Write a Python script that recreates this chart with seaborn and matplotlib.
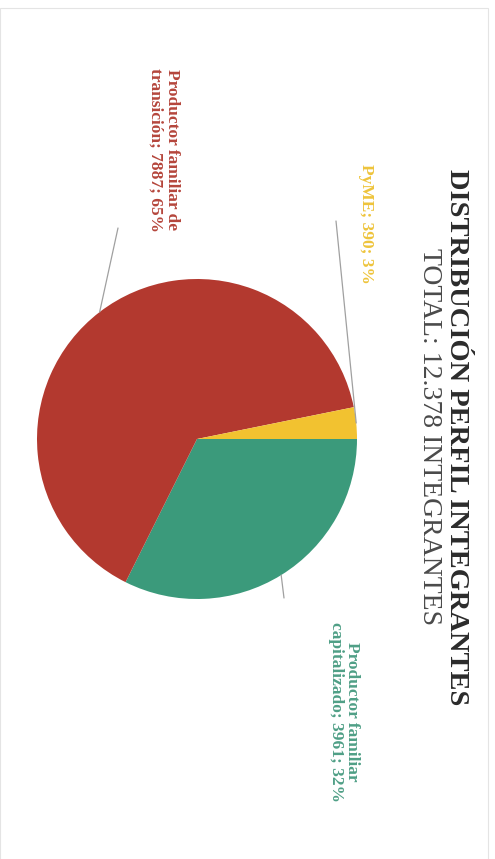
import numpy as np
import matplotlib.pyplot as plt
import seaborn as sns
from matplotlib.patches import Rectangle

# Data (the page is scanned rotated 90 degrees, so everything is drawn sideways)
categories = ['Productor familiar capitalizado', 'Productor familiar de transición', 'PyME']
members = [3961, 7887, 390]
shares = [32, 65, 3]
label_lines = [['Productor familiar', 'capitalizado'],
               ['Productor familiar de', 'transición'],
               ['PyME']]
title = 'DISTRIBUCIÓN PERFIL INTEGRANTES'
subtitle = 'TOTAL: 12.378 INTEGRANTES'

pie_colors = ['#3b9a7b', '#b3392f', '#f2c230']
text_colors = ['#4f9f86', '#b5463c', '#eec43c']

sns.set_theme(style='white')
plt.rcParams['font.family'] = ['Liberation Serif', 'DejaVu Serif']

W, H = 495, 859
fig = plt.figure(figsize=(W / 100, H / 100), dpi=100)
fig.patch.set_facecolor('white')
ax = fig.add_axes([0, 0, 1, 1])


def Y(py):
    # pixel row (from top) -> data y
    return H - py


center = (197, Y(439))
R = 160
wedges, _ = ax.pie(members, colors=pie_colors, startangle=0, counterclock=False,
                   center=center, radius=R, wedgeprops=dict(linewidth=0))
ax.set_xlim(0, W)
ax.set_ylim(0, H)
ax.set_aspect('equal')
ax.axis('off')

# label placement (bbox centres) and leader line ends, in pixels
label_pos = [(344, 712), (164, 150), (366, 224)]
line_end = [(284, 598), (118, 228), (336, 221)]

for i, w in enumerate(wedges):
    mid = np.deg2rad((w.theta1 + w.theta2) / 2)
    anchor = (center[0] + R * np.cos(mid), center[1] + R * np.sin(mid))
    ex, ey = line_end[i]
    ax.annotate('', xy=anchor, xytext=(ex, Y(ey)),
                arrowprops=dict(arrowstyle='-', color='#a0a0a0', lw=0.9,
                                shrinkA=0, shrinkB=0))
    lines = list(label_lines[i])
    lines[-1] = f'{lines[-1]}; {members[i]}; {shares[i]}%'
    lx, ly = label_pos[i]
    ax.text(lx, Y(ly), '\n'.join(lines), rotation=-90, ha='center', va='center',
            multialignment='center', fontsize=12.5, fontweight='bold',
            color=text_colors[i], linespacing=1.05)

ax.text(456, Y(437), title, rotation=-90, ha='center', va='center',
        fontsize=20.5, fontweight='bold', color='#2b2b2b')
ax.text(429, Y(437), subtitle, rotation=-90, ha='center', va='center',
        fontsize=20, color='#4a4a4a')

# faint page edge from the scan
fig.patches.append(Rectangle((0.0, -0.01), 488 / W, (H - 8) / H + 0.01,
                             transform=fig.transFigure, fill=False,
                             edgecolor='#e4e4e4', lw=0.8))

fig.savefig('out.png', dpi=100, facecolor='white')
